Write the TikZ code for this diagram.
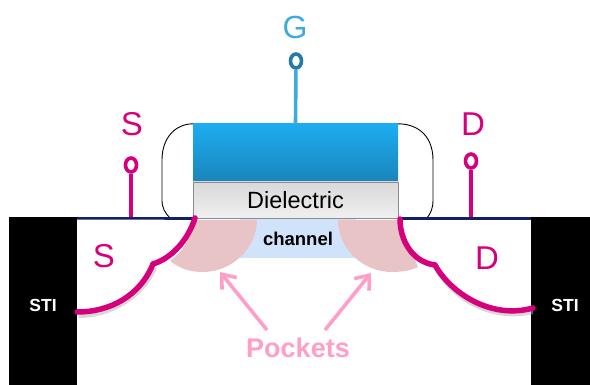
\documentclass[tikz,border=0pt]{standalone}
\usepackage{fontspec}
\setmainfont{Liberation Sans}
\usetikzlibrary{arrows.meta,shapes.geometric}
\newlength{\du}
\setlength{\du}{1pt}
\definecolor{sdcolor}{rgb}{0.840000, 0.000000, 0.490000}
\definecolor{gatecolor}{rgb}{0.240000, 0.670000, 0.860000}
\definecolor{pincolor}{rgb}{0.150000, 0.480000, 0.660000}
\definecolor{pinkcolor}{rgb}{1.000000, 0.620000, 0.790000}
\definecolor{pocketcolor}{rgb}{0.915000, 0.770000, 0.780000}
\definecolor{channelcolor}{rgb}{0.815000, 0.890000, 0.985000}
\definecolor{navycolor}{rgb}{0.070000, 0.130000, 0.380000}
\tikzset{
  stibox/.style={draw=none, fill=black, inner sep=0pt, minimum width=#1\du, minimum height=168\du},
  stitext/.style={text=white, font=\fontsize{17.5}{17.5}\selectfont\bfseries},
  sdtext/.style={text=sdcolor, font=\fontsize{33}{33}\selectfont},
  pinhead/.style={draw=#1, line width=3.6\du, ellipse, fill=white, inner sep=0pt, minimum width=11\du, minimum height=14\du},
  junction/.style={sdcolor, line width=5.5\du, line cap=round},
  junctionshade/.style={black!30, line width=4\du, opacity=0.5},
  pinline/.style={line width=3.6\du},
  pocketarrow/.style={pinkcolor, line width=3.6\du, -{Straight Barb[length=12pt, width=19pt, line width=3.6pt]}}
}
\begin{document}
\begin{tikzpicture}
\pgftransformxscale{1.000000}
\pgftransformyscale{-1.000000}
\useasboundingbox (0\du,0\du) rectangle (590\du,385\du);
% substrate and isolation
\node[stibox=68] (stileft) at (43\du,301\du){};
\node[stibox=59] (stiright) at (560.5\du,301\du){};
\node[stitext] (stileftlabel) at (43\du,305\du){STI};
\node[stitext] (stirightlabel) at (565\du,305\du){STI};
% channel
\fill[channelcolor] (240\du,219\du) rectangle (356\du,258\du);
\node[font=\fontsize{18.5}{18.5}\selectfont\bfseries] (channel) at (298\du,239\du){channel};
% spacer
\coordinate (spacerleft) at (170\du,218\du);
\coordinate (spacerright) at (427\du,218\du);
\node[draw=none, fill=none, inner sep=0pt, minimum width=205\du, minimum height=57\du, top color={rgb,255:red,28;green,173;blue,240}, bottom color={rgb,255:red,27;green,133;blue,188}] (gate) at (295.5\du,152.5\du){};
\node[draw=black!45, line width=0.7\du, inner sep=0pt, minimum width=205\du, minimum height=36\du, top color=black!15, bottom color=black!6, font=\fontsize{23.5}{23.5}\selectfont] (dielectric) at (295.5\du,200\du){Dielectric};
\draw[line width=0.9\du] (spacerleft) .. controls (165\du,213\du) and (162\du,208\du) .. (162\du,200\du) -- (162\du,160\du) .. controls (162\du,137\du) and (176\du,124\du) .. (gate.north west);
\draw[line width=0.9\du] (spacerright) .. controls (431\du,213\du) and (433\du,208\du) .. (433\du,200\du) -- (433\du,160\du) .. controls (433\du,137\du) and (419\du,124\du) .. (gate.north east);
% pockets
\fill[pocketcolor] (195\du,220\du) .. controls (190\du,240\du) and (182\du,252\du) .. (170\du,261\du) .. controls (182\du,270\du) and (192\du,272\du) .. (203\du,272\du) .. controls (232\du,272\du) and (257\du,248\du) .. (257\du,220\du) -- cycle;
\fill[pocketcolor] (338\du,220\du) .. controls (338\du,248\du) and (362\du,272\du) .. (392\du,272\du) .. controls (400\du,272\du) and (410\du,271\du) .. (418\du,267\du) -- (413\du,255\du) .. controls (405\du,245\du) and (400\du,235\du) .. (400\du,220\du) -- cycle;
% surface line
\draw[navycolor, line width=2.6\du] (stileft.north east) ++(0\du,1.5\du) -- (193\du,218.5\du);
\draw[navycolor, line width=2.6\du] (398\du,218.5\du) -- (531\du,218.5\du);
% source and drain junctions
\coordinate (sourcetop) at (195\du,218\du);
\coordinate (sourcekink) at (153\du,264\du);
\coordinate (sourceend) at (77\du,312\du);
\coordinate (draintop) at (400\du,219\du);
\coordinate (drainkink) at (435\du,265\du);
\coordinate (drainend) at (533\du,308\du);
\draw[junctionshade] (79\du,316\du) .. controls (110\du,316\du) and (142\du,298\du) .. (155\du,268\du);
\draw[junctionshade] (437\du,269\du) .. controls (452\du,298\du) and (490\du,322\du) .. (533\du,312\du);
\draw[junction] (sourcetop) .. controls (188\du,240\du) and (172\du,258\du) .. (sourcekink);
\draw[junction] (sourcekink) .. controls (140\du,296\du) and (110\du,312\du) .. (sourceend);
\draw[junction] (draintop) .. controls (400\du,240\du) and (412\du,262\du) .. (drainkink);
\draw[junction] (drainkink) .. controls (450\du,292\du) and (490\du,320\du) .. (drainend);
% terminals
\coordinate (sourcefoot) at (131\du,217\du);
\coordinate (drainfoot) at (471\du,217\du);
\node[pinhead=sdcolor] (sourcepin) at (131\du,165\du){};
\node[pinhead=sdcolor] (drainpin) at (471\du,161\du){};
\node[pinhead=pincolor] (gatepin) at (296\du,61\du){};
\draw[sdcolor, pinline] (sourcepin) -- (sourcefoot);
\draw[sdcolor, pinline] (drainpin) -- (drainfoot);
\draw[gatecolor, pinline] (gatepin) -- (gate.north);
\node[sdtext] (sourcetext) at (132\du,124\du){S};
\node[sdtext] (draintext) at (473\du,124\du){D};
\node[text=gatecolor, font=\fontsize{32}{32}\selectfont] (gatetext) at (295\du,27\du){G};
\node[sdtext] (sourcebody) at (104\du,256\du){S};
\node[sdtext] (drainbody) at (487\du,258\du){D};
% pockets label and arrows
\node[text=pinkcolor, font=\fontsize{27}{27}\selectfont\bfseries] (pockets) at (298\du,348\du){Pockets};
\coordinate (pocketleft) at (220\du,272\du);
\coordinate (pocketright) at (371\du,273\du);
\draw[pocketarrow] (267\du,330\du) -- (pocketleft);
\draw[pocketarrow] (325\du,330\du) -- (pocketright);
\end{tikzpicture}
\end{document}
